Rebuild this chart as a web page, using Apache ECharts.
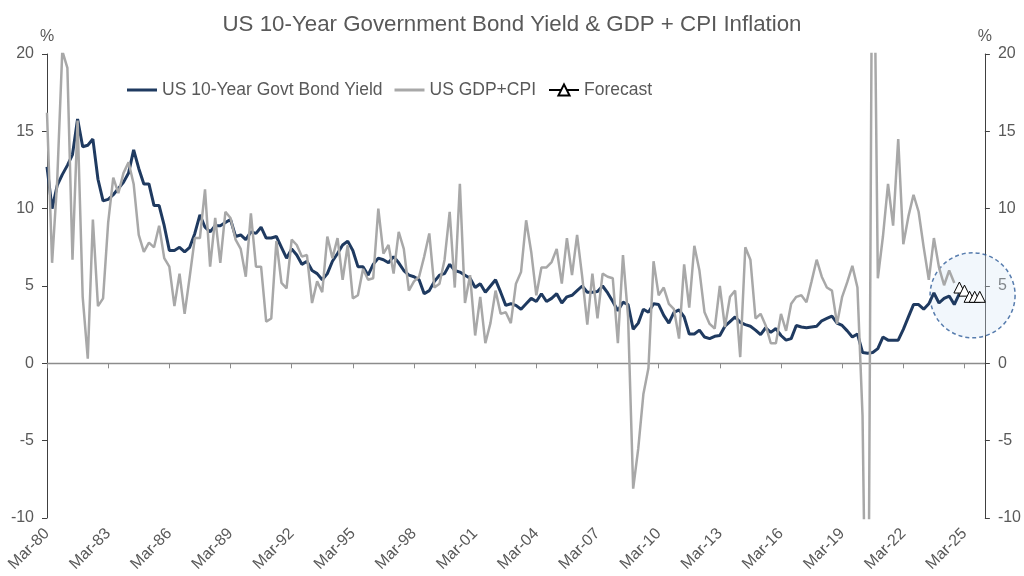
<!DOCTYPE html>
<html>
<head>
<meta charset="utf-8">
<title>US 10-Year Government Bond Yield & GDP + CPI Inflation</title>
<script src="https://cdn.jsdelivr.net/npm/echarts@6/dist/echarts.min.js"></script>
<style>
  html, body { margin: 0; padding: 0; background: #ffffff; }
  #chart { width: 1024px; height: 576px; }
</style>
</head>
<body>
<div id="chart"></div>
<script>
// Quarter-end labels, Mar-80 through Mar-26
const quarterMonths = ['Mar', 'Jun', 'Sep', 'Dec'];
const firstYear = 1980;
const quarterCount = 185;
const categories = [];
for (let k = 0; k < quarterCount; k++) {
  const year = firstYear + Math.floor(k / 4);
  categories.push(quarterMonths[k % 4] + '-' + String(year % 100).padStart(2, '0'));
}

// US 10-year government bond yield, %, quarter end (Mar-80 .. Dec-24)
const bondYield = [
  12.7, 10.0, 11.5, 12.2, 12.8, 13.5, 15.8, 14.0, 14.1, 14.5,
  11.9, 10.5, 10.6, 10.9, 11.3, 11.7, 12.3, 13.8, 12.6, 11.6,
  11.6, 10.2, 10.2, 8.9, 7.3, 7.3, 7.5, 7.2, 7.5, 8.4,
  9.6, 8.8, 8.5, 8.9, 8.9, 9.1, 9.3, 8.2, 8.3, 8.0,
  8.5, 8.4, 8.8, 8.1, 8.1, 8.2, 7.5, 6.8, 7.4, 7.0,
  6.4, 6.6, 6.0, 5.8, 5.4, 5.8, 6.6, 7.1, 7.65, 7.9,
  7.3, 6.25, 6.25, 5.7, 6.4, 6.8, 6.7, 6.5, 6.9, 6.5,
  6.0, 5.7, 5.6, 5.4, 4.5, 4.7, 5.3, 5.7, 5.8, 6.4,
  6.0, 5.9, 5.7, 5.5, 4.9, 5.15, 4.6, 5.0, 5.4, 4.6,
  3.75, 3.85, 3.75, 3.5, 3.85, 4.2, 4.0, 4.5, 4.0, 4.2,
  4.5, 3.9, 4.3, 4.4, 4.7, 5.0, 4.6, 4.6, 4.65, 5.0,
  4.55, 4.0, 3.4, 3.95, 3.8, 2.2, 2.6, 3.5, 3.3, 3.85,
  3.8, 3.1, 2.6, 3.3, 3.45, 3.0, 1.9, 1.9, 2.15, 1.7,
  1.6, 1.75, 1.8, 2.4, 2.7, 3.0, 2.65, 2.5, 2.4, 2.15,
  1.85, 2.3, 2.0, 2.25, 1.8, 1.5, 1.6, 2.45, 2.35, 2.3,
  2.35, 2.4, 2.75, 2.9, 3.05, 2.6, 2.45, 2.1, 1.7, 1.9,
  0.7, 0.65, 0.7, 0.95, 1.7, 1.5, 1.5, 1.5, 2.2, 3.0,
  3.8, 3.8, 3.5, 3.85, 4.55, 3.9, 4.2, 4.35, 3.8, 4.5
];

// Real GDP growth plus CPI inflation, % (Mar-80 .. Sep-24)
const gdpPlusCpi = [
  16.2, 6.5, 11.8, 20.2, 19.1, 6.7, 15.7, 4.3, 0.3, 9.3,
  3.7, 4.2, 9.1, 12.0, 11.0, 12.3, 13.0, 11.6, 8.3, 7.2,
  7.8, 7.5, 8.9, 6.8, 6.25, 3.7, 5.8, 3.2, 5.6, 8.1,
  8.1, 11.25, 6.25, 9.4, 6.5, 9.8, 9.4, 8.0, 7.4, 5.6,
  9.7, 6.25, 6.25, 2.7, 2.9, 7.9, 5.2, 4.85, 8.0, 7.65,
  6.9, 7.0, 3.9, 5.3, 4.6, 8.2, 6.8, 8.1, 5.4, 7.65,
  4.2, 4.4, 6.1, 5.4, 5.5, 10.0, 7.1, 7.65, 5.8, 8.5,
  7.4, 4.7, 5.3, 5.6, 6.9, 8.4, 4.9, 5.15, 6.7, 9.8,
  4.9, 11.6, 3.9, 5.7, 1.8, 4.3, 1.3, 2.6, 4.7, 3.2,
  3.3, 2.6, 5.15, 5.9, 9.25, 7.2, 4.4, 6.2, 6.2, 6.55,
  7.4, 5.15, 8.1, 5.7, 8.3, 5.6, 2.5, 5.8, 2.9, 5.8,
  5.6, 5.5, 1.3, 7.0, 3.0, -8.1, -5.5, -2.0, -0.3, 6.6,
  4.4, 4.9, 3.85, 3.5, 1.6, 6.4, 3.6, 7.6, 6.0, 3.3,
  2.55, 2.25, 5.0, 2.35, 4.3, 4.7, 0.4, 7.5, 6.7, 2.9,
  3.2, 2.45, 1.3, 1.3, 3.2, 2.1, 3.85, 4.3, 4.4, 3.95,
  5.3, 6.7, 5.6, 4.9, 4.7, 2.55, 4.3, 5.25, 6.3, 4.9,
  -3.4, -28.0, 36.0, 5.5, 8.2, 11.6, 8.9, 14.5, 7.7, 9.5,
  10.9, 9.8, 7.5, 5.4, 8.1, 6.2, 5.05, 6.0, 5.2
];

// GDP+CPI forecast
const forecastQuarters = ['Dec-24', 'Mar-25', 'Jun-25', 'Sep-25', 'Dec-25'];
const forecastValues = [4.9, 4.7, 4.3, 4.3, 4.3];

// Dashed ring around the forecast window (centre quarter and level)
const ringQuarter = 'Jun-25';
const ringLevel = 4.4;

// Left / right value axis ticks
const yMin = -10, yMax = 20, yStep = 5;

const TEXT = '#595959';
const FONT = '"Liberation Sans", Arial, sans-serif';
const BLUE = '#1f3a60';
const GREY = '#a8a8a8';

// forecast placed on the quarter index of the shared category axis
const forecastData = categories.map(() => null);
forecastQuarters.forEach((q, k) => {
  forecastData[categories.indexOf(q)] = forecastValues[k];
});

const valueAxis = (position) => ({
  type: 'value',
  position: position,
  min: yMin,
  max: yMax,
  interval: yStep,
  name: '%',
  nameLocation: 'end',
  nameGap: 9,
  nameTextStyle: { color: TEXT, fontSize: 16, fontFamily: FONT },
  axisLine: { show: true, lineStyle: { color: '#404040', width: 1 } },
  axisTick: { show: true, inside: false, length: 5, lineStyle: { color: '#404040' } },
  axisLabel: { color: TEXT, fontSize: 16, fontFamily: FONT, margin: 13 },
  splitLine: { show: false }
});

// flat bar used as a plain line key in the legend
const lineKey = 'path://M0,0 L30,0 L30,3 L0,3 Z';

const chart = echarts.init(document.getElementById('chart'), null, { renderer: 'canvas' });

chart.setOption({
  animation: false,
  backgroundColor: '#ffffff',
  title: {
    text: 'US 10-Year Government Bond Yield & GDP + CPI Inflation',
    left: 'center',
    top: 9,
    textStyle: { color: TEXT, fontSize: 22.3, fontWeight: 'normal', fontFamily: FONT }
  },
  legend: {
    data: [
      { name: 'US 10-Year Govt Bond Yield', icon: lineKey },
      { name: 'US GDP+CPI', icon: lineKey },
      { name: 'Forecast' }
    ],
    left: 127,
    top: 81,
    padding: 0,
    itemWidth: 30,
    itemHeight: 14,
    itemGap: 12,
    textStyle: { color: TEXT, fontSize: 17.5, fontFamily: FONT }
  },
  grid: { left: 47, right: 33, top: 54, bottom: 58, containLabel: false },
  xAxis: [
    {
      type: 'category',
      data: categories,
      boundaryGap: false,
      position: 'bottom',
      axisLine: { show: true, onZero: true, lineStyle: { color: '#8c8c8c', width: 1.3 } },
      axisTick: { show: true, interval: 11, length: 5, lineStyle: { color: '#8c8c8c' } },
      axisLabel: { show: false },
      splitLine: { show: false }
    },
    {
      type: 'category',
      data: categories,
      boundaryGap: false,
      position: 'bottom',
      axisLine: { show: false, onZero: false },
      axisTick: { show: false },
      axisLabel: {
        interval: 11,
        rotate: 45,
        margin: 13,
        color: TEXT,
        fontSize: 16,
        fontFamily: FONT
      },
      splitLine: { show: false }
    }
  ],
  yAxis: [valueAxis('left'), valueAxis('right')],
  series: [
    {
      name: 'Forecast window',
      type: 'scatter',
      xAxisIndex: 0,
      yAxisIndex: 0,
      silent: true,
      z: 1,
      symbol: 'circle',
      symbolSize: 85,
      symbolOffset: [3, 0],
      itemStyle: {
        color: 'rgba(214, 229, 245, 0.4)',
        borderColor: '#2e5c9a',
        borderWidth: 1.5,
        borderType: [4, 3]
      },
      data: [[categories.indexOf(ringQuarter), ringLevel]]
    },
    {
      name: 'US 10-Year Govt Bond Yield',
      type: 'line',
      xAxisIndex: 0,
      yAxisIndex: 0,
      symbol: 'none',
      z: 3,
      lineStyle: { color: BLUE, width: 3 },
      itemStyle: { color: BLUE },
      data: bondYield
    },
    {
      name: 'US GDP+CPI',
      type: 'line',
      xAxisIndex: 0,
      yAxisIndex: 0,
      symbol: 'none',
      z: 4,
      clip: true,
      lineStyle: { color: GREY, width: 2.5 },
      itemStyle: { color: GREY },
      data: gdpPlusCpi
    },
    {
      name: 'Forecast',
      type: 'line',
      xAxisIndex: 0,
      yAxisIndex: 0,
      z: 5,
      symbol: 'triangle',
      symbolSize: 11,
      showSymbol: true,
      showAllSymbol: true,
      connectNulls: false,
      lineStyle: { color: '#000000', width: 1 },
      itemStyle: { color: '#ffffff', borderColor: '#000000', borderWidth: 1 },
      data: forecastData
    }
  ]
});
</script>
</body>
</html>
